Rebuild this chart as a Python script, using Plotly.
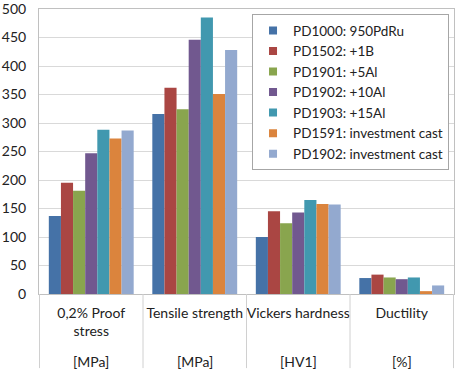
import plotly.graph_objects as go

categories = ["0,2% Proof<br>stress", "Tensile strength", "Vickers hardness", "Ductility"]
units = ["[MPa]", "[MPa]", "[HV1]", "[%]"]

series_names = [
    "PD1000: 950PdRu",
    "PD1502: +1B",
    "PD1901: +5Al",
    "PD1902: +10Al",
    "PD1903: +15Al",
    "PD1591: investment cast",
    "PD1902: investment cast",
]
pd1000 = [137, 316, 100, 28]
pd1502 = [195, 362, 145, 34]
pd1901 = [181, 324, 124, 29]
pd1902 = [247, 446, 143, 26]
pd1903 = [288, 485, 165, 29]
pd1591_cast = [273, 351, 158, 5]
pd1902_cast = [287, 428, 157, 15]
series_values = [pd1000, pd1502, pd1901, pd1902, pd1903, pd1591_cast, pd1902_cast]
colors = ["#4572A7", "#AA4643", "#89A54E", "#71588F", "#4198AF", "#DB843D", "#93A9CF"]

FONT = "Lato"

fig = go.Figure()
for name, vals, col in zip(series_names, series_values, colors):
    fig.add_trace(go.Bar(x=categories, y=vals, name=name, marker=dict(color=col, line=dict(width=0)),
                         showlegend=False))
for name, col in zip(series_names, colors):
    fig.add_trace(go.Scatter(x=[None], y=[None], mode="markers", name=name,
                             marker=dict(symbol="square", size=8, color=col)))

for i, u in enumerate(units):
    fig.add_annotation(x=categories[i], y=0, xref="x", yref="paper", yshift=-67, text=u,
                       showarrow=False, yanchor="middle", font=dict(family=FONT, size=14, color="#222"))
for i in range(len(categories) + 1):
    fig.add_shape(type="line", xref="x", yref="paper", x0=i - 0.5, x1=i - 0.5, y0=0, y1=-0.26,
                  line=dict(color="#d0d0d0", width=1))

fig.update_layout(
    width=460, height=378,
    margin=dict(l=39, r=6, t=9, b=84),
    paper_bgcolor="white", plot_bgcolor="white",
    barmode="group", bargap=0.18, bargroupgap=0,
    font=dict(family=FONT, size=14, color="#222"),
    legend=dict(x=0.988, xanchor="right", y=0.982, yanchor="top", bgcolor="white",
                bordercolor="#a6a6a6", borderwidth=1, font=dict(size=13.5),
                itemwidth=30, tracegroupgap=0),
    xaxis=dict(showline=True, linecolor="#c0c0c0", mirror=True, showgrid=False, ticks="",
               tickfont=dict(size=14), automargin=False, ticklabelstandoff=6),
    yaxis=dict(range=[0, 500], dtick=50, showgrid=True, gridcolor="#d9d9d9", showline=True,
               linecolor="#c0c0c0", mirror=True, ticks="", tickfont=dict(size=14), zeroline=False,
               automargin=False, ticklabeloverflow="allow", ticklabelstandoff=9),
)
fig.write_html("out.html", post_script="document.body.style.margin='0px';",
               config={"displayModeBar": False})
